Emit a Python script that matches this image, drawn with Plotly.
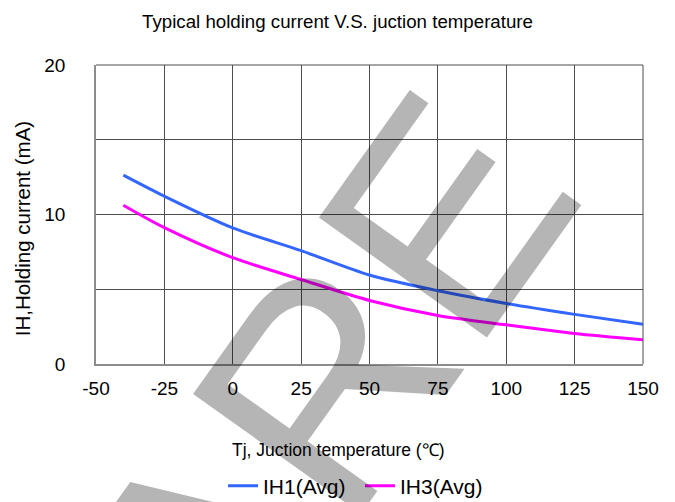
import plotly.graph_objects as go

# ---- data ----
temps = [-40, -25, 0, 25, 50, 75, 100, 125, 150]
ih1_avg = [12.63, 11.22, 9.10, 7.58, 5.95, 4.90, 4.05, 3.32, 2.65]
ih3_avg = [10.62, 9.12, 7.11, 5.65, 4.25, 3.25, 2.62, 2.04, 1.62]

x_ticks = [-50, -25, 0, 25, 50, 75, 100, 125, 150]
y_ticks = [0, 10, 20]

title_text = "Typical holding current V.S. juction temperature"
x_title = "Tj, Juction temperature (℃)"
y_title = "IH,Holding current (mA)"
watermark = "ARE"

FONT = "Liberation Sans, Arial, sans-serif"
GRID = "#4d4d4d"
W, H = 667, 494

fig = go.Figure()
fig.add_trace(go.Scatter(x=temps, y=ih1_avg, mode="lines", name="IH1(Avg)",
                         line=dict(color="#3366ff", width=3, shape="spline", smoothing=0.8)))
fig.add_trace(go.Scatter(x=temps, y=ih3_avg, mode="lines", name="IH3(Avg)",
                         line=dict(color="#ff00ff", width=3, shape="spline", smoothing=0.8)))

fig.update_layout(
    width=W, height=H,
    margin=dict(l=88, r=32, t=57, b=138, autoexpand=False),
    paper_bgcolor="white", plot_bgcolor="white",
    font=dict(family=FONT, color="#000000", size=19),
    title=dict(text=title_text, x=0.5 - 4 / W, xanchor="center", y=1 - 13 / H, yanchor="middle",
               yref="container", font=dict(size=18.7, color="#000000")),
    showlegend=True,
    legend=dict(orientation="h", xref="container", yref="container",
                x=215 / W, xanchor="left", y=1 - 478 / H, yanchor="middle",
                entrywidth=92, entrywidthmode="pixels",
                font=dict(size=21), bgcolor="rgba(0,0,0,0)"),
)

fig.update_xaxes(range=[-50, 150], tickvals=x_ticks, ticktext=[str(v) for v in x_ticks],
                 showgrid=True, gridcolor=GRID, gridwidth=1,
                 showline=True, linecolor="#8c8c8c", linewidth=1.5,
                 zeroline=False, ticks="", ticklabelstandoff=6,
                 tickfont=dict(size=19))
fig.update_yaxes(range=[0, 20], tickvals=y_ticks, ticktext=[str(v) for v in y_ticks],
                 showgrid=True, gridcolor=GRID, gridwidth=1,
                 minor=dict(dtick=5, tick0=0, showgrid=True, gridcolor=GRID, gridwidth=1),
                 showline=True, linecolor="#8c8c8c", linewidth=1.5,
                 zeroline=False, ticks="", ticklabelstandoff=25,
                 tickfont=dict(size=19))

# top and right frame lines (gridline-coloured)
fig.add_shape(type="line", xref="paper", yref="paper", x0=0, x1=1, y0=1, y1=1,
              line=dict(color=GRID, width=1))
fig.add_shape(type="line", xref="paper", yref="paper", x0=1, x1=1, y0=0, y1=1,
              line=dict(color=GRID, width=1))

# axis titles
fig.add_annotation(text=x_title, xref="paper", yref="paper", x=0.4415, y=-0.286,
                   xanchor="center", yanchor="middle", showarrow=False,
                   font=dict(size=17.5, family=FONT, color="#000000"))
fig.add_annotation(text=y_title, xref="paper", yref="paper", x=-0.135, y=0.4515,
                   xanchor="center", yanchor="middle", showarrow=False, textangle=-90,
                   font=dict(size=20.5, family=FONT, color="#000000"))

# watermark
fig.add_annotation(text=watermark, xref="paper", yref="paper", x=0.4186, y=-0.0686,
                   xanchor="center", yanchor="middle", showarrow=False, textangle=-54.5,
                   font=dict(size=300, family=FONT, color="rgba(0,0,0,0.29)"))

fig.write_html("out.html")
